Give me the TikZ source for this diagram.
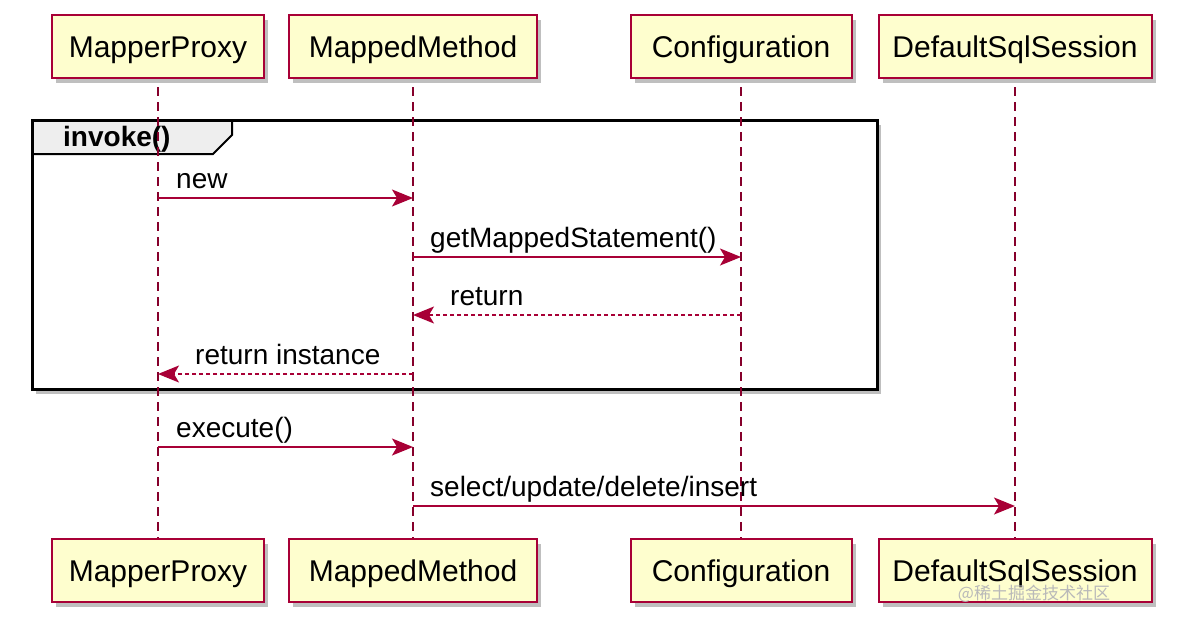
\documentclass[tikz,border=0pt]{standalone}
\usepackage{fontspec}
\setmainfont{Liberation Sans}
\newfontfamily\cjkfont{Noto Sans CJK SC}
\usepackage{tikz}
\usetikzlibrary{arrows.meta, positioning, shadows}
\definecolor{umlred}{HTML}{A80036}
\definecolor{umlfill}{HTML}{FEFECE}
\definecolor{tabgray}{HTML}{EEEEEE}

\begin{document}
\begin{tikzpicture}[
    x=1pt, y=-1pt,
    every node/.style={font=\fontsize{28}{32}\selectfont},
    participant/.style={rectangle, draw=umlred, fill=umlfill, line width=2pt, minimum height=63pt, inner sep=0pt, text height=22pt, text depth=1pt, font=\fontsize{30}{34}\selectfont, drop shadow={shadow xshift=4pt, shadow yshift=-5pt, fill=black, opacity=0.25}},
    groupbox/.style={rectangle, draw=black, fill=white, line width=3pt, outer sep=0pt, inner sep=0pt, drop shadow={shadow xshift=4pt, shadow yshift=-5pt, fill=black, opacity=0.25}},
    grouptab/.style={draw=black, fill=tabgray, line width=2pt},
    lifeline/.style={draw=umlred!80!black, line width=1.5pt, dash pattern=on 9pt off 6pt, shorten <=8pt},
    msg/.style={-{Stealth[length=21pt, width=17pt, inset=5pt]}, draw=umlred, line width=1.5pt},
    reply/.style={msg, dash pattern=on 4pt off 3pt},
    msglabel/.style={anchor=base west, inner sep=0pt}
]
\useasboundingbox (0,0) rectangle (1184,622);

% Group frame
\node[groupbox, minimum width=845pt, minimum height=269pt] (invokeFrame) at (454.5,254.5) {};
\filldraw[grouptab] (invokeFrame.north west) -- ++(200,0) -- ++(0,15) -- ++(-19,19) -- (invokeFrame.north west |- 0,154) -- cycle;
\draw[line width=3pt] (invokeFrame.north west) rectangle (invokeFrame.south east);
\node[msglabel, font=\bfseries\fontsize{28}{32}\selectfont] (invokeTitle) at (63,146) {invoke()};

% Nodes
\node[participant, minimum width=212pt] (proxyTop) at (158,46.5) {MapperProxy};
\node[participant, minimum width=248pt] (methodTop) at (413,46.5) {MappedMethod};
\node[participant, minimum width=221pt] (configTop) at (741,46.5) {Configuration};
\node[participant, minimum width=273pt] (sessionTop) at (1015,46.5) {DefaultSqlSession};
\node[participant, minimum width=212pt] (proxyBot) at (158,570.5) {MapperProxy};
\node[participant, minimum width=248pt] (methodBot) at (413,570.5) {MappedMethod};
\node[participant, minimum width=221pt] (configBot) at (741,570.5) {Configuration};
\node[participant, minimum width=273pt] (sessionBot) at (1015,570.5) {DefaultSqlSession};

% Lifelines
\draw[lifeline] (proxyTop) -- (proxyBot);
\draw[lifeline] (methodTop) -- (methodBot);
\draw[lifeline] (configTop) -- (configBot);
\draw[lifeline] (sessionTop) -- (sessionBot);

% Arrows
\draw[msg] (proxyTop |- 0,198) -- (methodTop |- 0,198);
\node[msglabel] (newLbl) at (176,188) {new};
\draw[msg] (methodTop |- 0,257) -- (configTop |- 0,257);
\node[msglabel] (getLbl) at (430,247) {getMappedStatement()};
\draw[reply] (configTop |- 0,315) -- (methodTop |- 0,315);
\node[msglabel] (returnLbl) at (450,305) {return};
\draw[reply] (methodTop |- 0,374) -- (proxyTop |- 0,374);
\node[msglabel] (instanceLbl) at (195,364) {return instance};
\draw[msg] (proxyTop |- 0,447) -- (methodTop |- 0,447);
\node[msglabel] (executeLbl) at (176,437) {execute()};
\draw[msg] (methodTop |- 0,506) -- (sessionTop |- 0,506);
\node[msglabel] (sqlLbl) at (430,496) {select/update/delete/insert};

% Watermark
\node[font=\cjkfont\fontsize{17}{20}\selectfont, text=gray!55] (watermark) at (1034,594) {@稀土掘金技术社区};
\end{tikzpicture}
\end{document}
